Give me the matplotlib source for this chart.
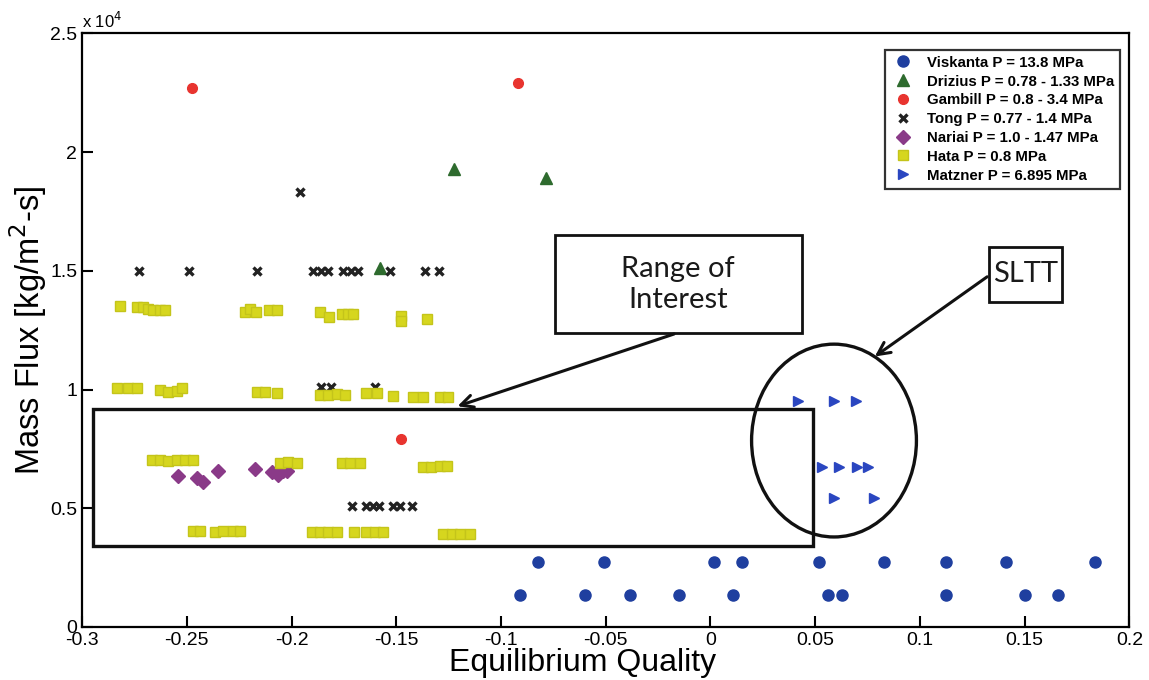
import matplotlib
matplotlib.use("Agg")
import matplotlib.pyplot as plt
from matplotlib.patches import Rectangle, Ellipse
from matplotlib.ticker import FuncFormatter, MultipleLocator

plt.rcParams['font.family'] = ['Liberation Sans', 'DejaVu Sans']

# ---------------- data ----------------
viskanta_x = [-0.0821, -0.0508, 0.0016, 0.0153, 0.0520, 0.0829, 0.1126, 0.1410, 0.1835,
              -0.0910, -0.0600, -0.0386, -0.0149, 0.0106, 0.0560, 0.0627, 0.1126, 0.1504, 0.1660]
viskanta_y = [2720] * 9 + [1360] * 10

drizius_x = [-0.1225, -0.0786, -0.1578]
drizius_y = [19300, 18900, 15100]

gambill_x = [-0.2475, -0.0920, -0.1478]
gambill_y = [22700, 22900, 7900]

tong_x = [-0.1960,
          -0.2728, -0.2490, -0.2165, -0.1898, -0.1860, -0.1826, -0.1755, -0.1717, -0.1683,
          -0.1531, -0.1364, -0.1297,
          -0.1860, -0.1810, -0.1600,
          -0.1712, -0.1645, -0.1612, -0.1583, -0.1516, -0.1483, -0.1426]
tong_y = [18300] + [15000] * 12 + [10100] * 3 + [5100] * 7

nariai_x = [-0.2541, -0.2450, -0.2424, -0.2353, -0.2175, -0.2095, -0.2066, -0.2042, -0.2023]
nariai_y = [6355, 6258, 6115, 6566, 6650, 6536, 6397, 6566, 6566]

hata_x = [-0.2819, -0.2739, -0.2708, -0.2684, -0.2660, -0.2628, -0.2604,
          -0.2222, -0.2198, -0.2170, -0.2106, -0.2071,
          -0.1864, -0.1820, -0.1761, -0.1729, -0.1706,
          -0.1475, -0.1475, -0.1355,
          -0.2835, -0.2779, -0.2739, -0.2628, -0.2588, -0.2548, -0.2524,
          -0.2167, -0.2127, -0.2071,
          -0.1863, -0.1825, -0.1785, -0.1745,
          -0.1642, -0.1594, -0.1515,
          -0.1419, -0.1372, -0.1292, -0.1252,
          -0.2667, -0.2628, -0.2588, -0.2548, -0.2509, -0.2469,
          -0.2055, -0.2016, -0.1976,
          -0.1761, -0.1721, -0.1674,
          -0.1372, -0.1332, -0.1292, -0.1260,
          -0.2469, -0.2437,
          -0.2365, -0.2326, -0.2278, -0.2246,
          -0.1904, -0.1864, -0.1825, -0.1785,
          -0.1702, -0.1642, -0.1602, -0.1563,
          -0.1276, -0.1236, -0.1197, -0.1149]
hata_y = [13510, 13455, 13455, 13400, 13342, 13342, 13342,
          13270, 13370, 13270, 13342, 13342,
          13270, 13060, 13200, 13200, 13200,
          13100, 12880, 12990,
          10046, 10046, 10046, 10000, 9900, 9950, 10050,
          9900, 9900, 9850,
          9764, 9764, 9800, 9764,
          9835, 9835, 9722,
          9693, 9693, 9693, 9693,
          7029, 7029, 7000, 7029, 7029, 7029,
          6916, 6960, 6916,
          6890, 6890, 6890,
          6747, 6747, 6790, 6790,
          4053, 4053,
          4000, 4053, 4053, 4053,
          3983, 3983, 3983, 3983,
          3983, 3983, 3983, 3983,
          3914, 3914, 3914, 3914]

matzner_x = [0.0416, 0.0588, 0.0693, 0.0535, 0.0612, 0.0698, 0.0750, 0.0588, 0.0783]
matzner_y = [9520, 9520, 9520, 6750, 6750, 6750, 6750, 5430, 5430]

labels = ["Viskanta P = 13.8 MPa", "Drizius P = 0.78 - 1.33 MPa", "Gambill P = 0.8 - 3.4 MPa",
          "Tong P = 0.77 - 1.4 MPa", "Nariai P = 1.0 - 1.47 MPa", "Hata P = 0.8 MPa",
          "Matzner P = 6.895 MPa"]

x_ticks = [-0.3, -0.25, -0.2, -0.15, -0.1, -0.05, 0, 0.05, 0.1, 0.15, 0.2]

# ---------------- figure ----------------
fig = plt.figure(figsize=(11.49, 6.8), dpi=100)
ax = fig.add_axes([0.0714, 0.078, 0.9115, 0.873])

ax.plot(viskanta_x, viskanta_y, 'o', ls='none', color='#1f3f9f', ms=8, mec='#1f3f9f', label=labels[0])
ax.plot(drizius_x, drizius_y, '^', ls='none', color='#2e6b2e', ms=9, label=labels[1])
ax.plot(gambill_x, gambill_y, 'o', ls='none', color='#e8342f', ms=7, label=labels[2])
ax.plot(tong_x, tong_y, 'x', ls='none', color='#222222', ms=5.5, mew=2.4, label=labels[3])
ax.plot(nariai_x, nariai_y, 'D', ls='none', color='#8a3a88', ms=7, label=labels[4])
ax.plot(hata_x, hata_y, 's', ls='none', color='#d6d61e', mec='#c4c41a', ms=7.5, label=labels[5])
ax.plot(matzner_x, matzner_y, '>', ls='none', color='#2a46c0', ms=7, label=labels[6])

ax.set_xlim(-0.3, 0.2)
ax.set_ylim(0, 25000)
ax.set_xticks(x_ticks)
ax.xaxis.set_major_formatter(FuncFormatter(lambda v, p: '%g' % round(v, 3)))
ax.yaxis.set_major_locator(MultipleLocator(5000))
ax.yaxis.set_major_formatter(FuncFormatter(lambda v, p: '%g' % (v / 1e4)))
ax.tick_params(direction='in', length=8, width=1.5, labelsize=14, top=False, right=False)
for s in ax.spines.values():
    s.set_linewidth(1.6)

ax.set_xlabel('Equilibrium Quality', fontsize=23, labelpad=0)
ax.xaxis.set_label_coords(0.478, -0.036, transform=ax.transAxes)
ax.xaxis.label.set_va('top')
ax.set_ylabel('Mass Flux [kg/m$^2$-s]', fontsize=23.5, labelpad=1)
ax.text(0.0, 1.004, 'x 10$^{4}$', transform=ax.transAxes, fontsize=12, ha='left', va='bottom')

leg = ax.legend(loc='upper right', bbox_to_anchor=(0.998, 0.985),
                prop={'weight': 'bold', 'size': 10.8}, frameon=True, fancybox=False,
                edgecolor='black', labelspacing=0.32, handletextpad=0.8,
                borderpad=0.4, handlelength=1.6, markerscale=1.0)
leg.get_frame().set_linewidth(1.6)

# ---------------- annotations ----------------
lw = 2.4
ax.add_patch(Rectangle((-0.2948, 3409), 0.0488 + 0.2948, 9175 - 3409, fill=False,
                       lw=lw, ec='#111111', clip_on=False, zorder=3))
ax.add_patch(Ellipse((0.059, 7850), 0.0787, 8120, fill=False, lw=lw, ec='#111111', zorder=3))

ax.add_patch(Rectangle((-0.0743, 12374), 0.0435 + 0.0743, 16498 - 12374, fill=True,
                       fc='white', lw=2.0, ec='#111111', zorder=4))
ax.text(-0.0156, 14436, 'Range of\nInterest', fontsize=21, ha='center', va='center',
        family=['Lato', 'DejaVu Sans'], linespacing=1.25, color='#1a1a1a', zorder=5)
ax.annotate('', xy=(-0.122, 9259), xytext=(-0.0161, 12374),
            arrowprops=dict(arrowstyle='->', lw=2.2, color='#111111', mutation_scale=22), zorder=4)

ax.add_patch(Rectangle((0.1332, 13678), 0.168 - 0.1332, 15993 - 13678, fill=True,
                       fc='white', lw=2.0, ec='#111111', zorder=4))
ax.text(0.1506, 14850, 'SLTT', fontsize=21, ha='center', va='center',
        family=['Lato', 'DejaVu Sans'], color='#1a1a1a', zorder=5)
ax.annotate('', xy=(0.0774, 11322), xytext=(0.1332, 14815),
            arrowprops=dict(arrowstyle='->', lw=2.2, color='#111111', mutation_scale=22), zorder=4)

fig.savefig('out.png', dpi=100)
